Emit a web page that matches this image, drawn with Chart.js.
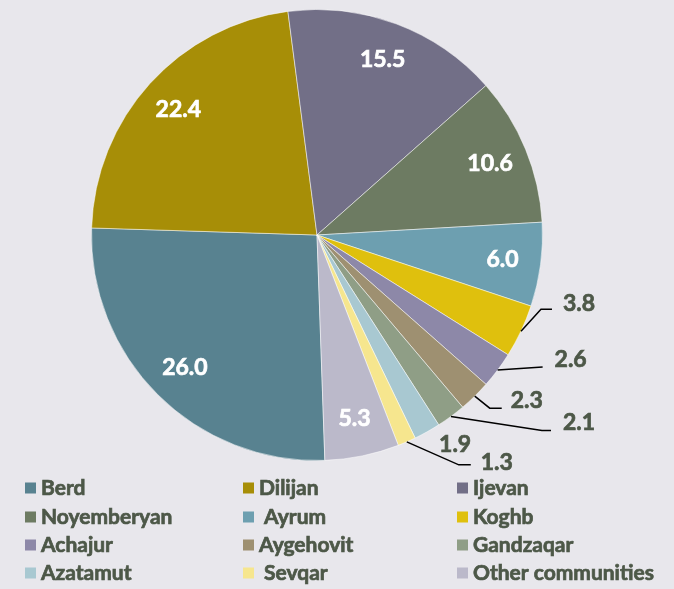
<!DOCTYPE html>
<html>
<head>
<meta charset="utf-8">
<script src="https://cdn.jsdelivr.net/npm/chart.js@4"></script>
<style>
  html, body { margin: 0; padding: 0; background: #E8E7EC; }
  #wrap { width: 674px; height: 589px; position: relative; }
</style>
</head>
<body>
<div id="wrap"><canvas id="pie" width="674" height="589"></canvas></div>
<script>
// share of each community, %
const communities = ['Berd', 'Dilijan', 'Ijevan', 'Noyemberyan', ' Ayrum', 'Koghb', 'Achajur', 'Aygehovit', 'Gandzaqar', 'Azatamut', ' Sevqar', 'Other communities'];
const shares = [26.0, 22.4, 15.5, 10.6, 6.0, 3.8, 2.6, 2.3, 2.1, 1.9, 1.3, 5.3];
const sliceColors = ['#588290', '#A78E07', '#726F87', '#6D7B62', '#6D9FB0', '#DFC00D', '#8D88A8', '#9E9071', '#8F9E86', '#A8C8D1', '#F6E68E', '#BBB9CA'];

// null -> label inside slice; otherwise leader line points + text offset, relative to slice edge
const callouts = [null, null, null, null, null,
    { line: [[20, -22], [31, -22]], text: [58, -28] },
    { line: [[45, -3]], text: [73, -10] },
    { line: [[15, 12], [27, 12]], text: [52, 4] },
    { line: [[91, 14], [100, 14]], text: [128, 6] },
    { line: [], text: [28, 13] },
    { line: [[52, 23], [64, 23]], text: [90, 21] },
    null];

const darkText = '#4D5848';
const fontFamily = 'Lato, "Open Sans", sans-serif';

// bold text with a thin stroke so it reads as heavy as the original
function heavyText(ctx, txt, x, y, color) {
    ctx.fillStyle = color;
    ctx.strokeStyle = color;
    ctx.lineWidth = 0.7;
    ctx.fillText(txt, x, y);
    ctx.strokeText(txt, x, y);
}

const valueLabels = {
    id: 'valueLabels',
    afterDatasetsDraw(chart) {
        const ctx = chart.ctx;
        const arcs = chart.getDatasetMeta(0).data;
        ctx.save();
        ctx.font = 'bold 23px ' + fontFamily;
        ctx.textAlign = 'center';
        ctx.textBaseline = 'middle';
        arcs.forEach((arc, i) => {
            const { x, y, startAngle, endAngle, outerRadius } = arc.getProps(['x', 'y', 'startAngle', 'endAngle', 'outerRadius'], true);
            const mid = (startAngle + endAngle) / 2;
            const txt = shares[i].toFixed(1);
            const c = callouts[i];
            if (!c) {
                heavyText(ctx, txt, x + Math.cos(mid) * outerRadius * 0.83, y + Math.sin(mid) * outerRadius * 0.83, '#FFFFFF');
                return;
            }
            const px = x + Math.cos(mid) * outerRadius;
            const py = y + Math.sin(mid) * outerRadius;
            if (c.line.length) {
                ctx.strokeStyle = '#000000';
                ctx.lineWidth = 1.5;
                ctx.beginPath();
                ctx.moveTo(px, py);
                c.line.forEach(p => ctx.lineTo(px + p[0], py + p[1]));
                ctx.stroke();
            }
            heavyText(ctx, txt, px + c.text[0], py + c.text[1], darkText);
        });
        ctx.restore();
    },
    afterDraw(chart) {
        // legend: 3 columns x 4 rows
        const ctx = chart.ctx;
        const colX = [25, 243, 457];
        const rowY = [488, 517, 545, 573];
        ctx.save();
        ctx.font = 'bold 21px ' + fontFamily;
        ctx.textBaseline = 'middle';
        ctx.textAlign = 'left';
        communities.forEach((name, i) => {
            const cx = colX[i % 3];
            const cy = rowY[Math.floor(i / 3)];
            ctx.fillStyle = sliceColors[i];
            ctx.fillRect(cx, cy - 5.5, 11, 11);
            heavyText(ctx, name, cx + 16, cy, darkText);
        });
        ctx.restore();
    }
};

new Chart(document.getElementById('pie'), {
    type: 'pie',
    data: {
        labels: communities,
        datasets: [{
            data: shares,
            backgroundColor: sliceColors,
            borderColor: 'rgba(255,255,255,0.5)',
            borderWidth: 1
        }]
    },
    options: {
        responsive: false,
        animation: false,
        devicePixelRatio: 1,
        rotation: 178,
        layout: { padding: { left: 91, top: 9, right: 131, bottom: 128 } },
        plugins: {
            legend: { display: false },
            tooltip: { enabled: false }
        }
    },
    plugins: [valueLabels]
});
</script>
</body>
</html>
